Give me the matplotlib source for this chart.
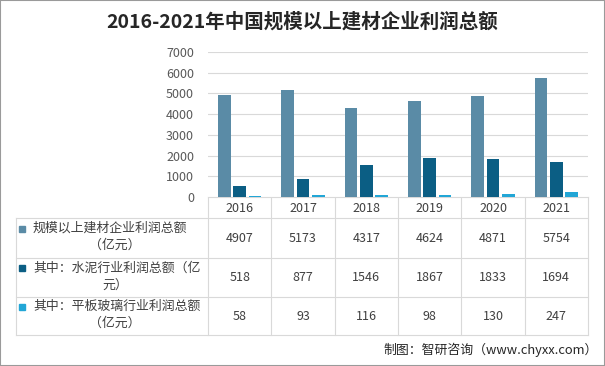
import matplotlib
matplotlib.use("Agg")
import matplotlib.pyplot as plt
import matplotlib.transforms as mtransforms
from matplotlib.patches import Rectangle

plt.rcParams["font.family"] = ["Noto Sans CJK SC", "DejaVu Sans"]

# 数据
years = ["2016", "2017", "2018", "2019", "2020", "2021"]
total_profit = [4907, 5173, 4317, 4624, 4871, 5754]
cement_profit = [518, 877, 1546, 1867, 1833, 1694]
glass_profit = [58, 93, 116, 98, 130, 247]
row_labels = [
    ("规模以上建材企业利润总额", "（亿元）"),
    ("其中：水泥行业利润总额（亿", "元）"),
    ("其中：平板玻璃行业利润总额", "（亿元）"),
]
colors = ["#5a8ba6", "#0b5e84", "#22a6d6"]
yticks = [0, 1000, 2000, 3000, 4000, 5000, 6000, 7000]

W, H = 605, 366
fig = plt.figure(figsize=(W / 100, H / 100), dpi=100)
fig.patch.set_facecolor("white")

# 绘图区
ax = fig.add_axes([208 / W, (H - 197) / H, 380 / W, 145 / H])
n = len(years)
xs = list(range(n))
series = [total_profit, cement_profit, glass_profit]
offsets = [-0.24, 0, 0.24]
for vals, off, c in zip(series, offsets, colors):
    ax.bar([x + off for x in xs], vals, width=0.2, color=c, zorder=3)
ax.set_xlim(-0.5, n - 0.5)
ax.set_ylim(0, 7000)
ax.set_yticks(yticks)
ax.set_yticklabels([str(t) for t in yticks], fontsize=9, color="#595959")
ax.tick_params(axis="y", length=0, pad=10)
ax.set_xticks([])
ax.grid(axis="y", color="#d9d9d9", linewidth=0.8, zorder=0)
for s in ax.spines.values():
    s.set_visible(False)

# 表格层
ov = fig.add_axes([0, 0, 1, 1], zorder=-1)
ov.set_xlim(0, W)
ov.set_ylim(H, 0)
ov.axis("off")
ov.patch.set_alpha(0)
bt = mtransforms.blended_transform_factory(ax.transData, ov.transData)

line_c = "#d9d9d9"
row_y = [197, 218, 258, 297, 335]
# 横线
ov.plot([208, 588], [197, 197], color=line_c, lw=0.8)
for y in row_y[1:]:
    ov.plot([16, 588], [y, y], color=line_c, lw=0.8)
# 竖线
ov.plot([16, 16], [218, 335], color=line_c, lw=0.8)
for i in range(n + 1):
    ov.plot([i - 0.5, i - 0.5], [197, 335], color=line_c, lw=0.8, transform=bt)

txt_c = "#404040"
for i, yr in enumerate(years):
    ov.text(i, 208, yr, transform=bt, ha="center", va="center", fontsize=9, color=txt_c)

for r, vals in enumerate(series):
    y0, y1 = row_y[r + 1], row_y[r + 2]
    yc = (y0 + y1) / 2
    for i, v in enumerate(vals):
        ov.text(i, yc, str(v), transform=bt, ha="center", va="center", fontsize=9, color=txt_c)
    l1, l2 = row_labels[r]
    ov.add_patch(Rectangle((19, yc - 12.5), 6, 6, color=colors[r]))
    ov.text(33, yc - 9.5, l1, ha="left", va="center", fontsize=9.3, color=txt_c)
    ov.text(115, yc + 7.5, l2, ha="center", va="center", fontsize=9.3, color=txt_c)

# 标题与来源
fig.text(0.5, 1 - 22 / H, "2016-2021年中国规模以上建材企业利润总额", ha="center", va="center",
         fontsize=14, fontweight="bold", color="#262626")
fig.text(598 / W, 1 - 350 / H, "制图：智研咨询（www.chyxx.com）", ha="right", va="center",
         fontsize=9.3, color="#262626")

# 外框
fig.add_artist(Rectangle((0, 0), 1, 1, transform=fig.transFigure, fill=False,
                         edgecolor="#9a9a9a", linewidth=1.5))

fig.savefig("out.png", dpi=100)
